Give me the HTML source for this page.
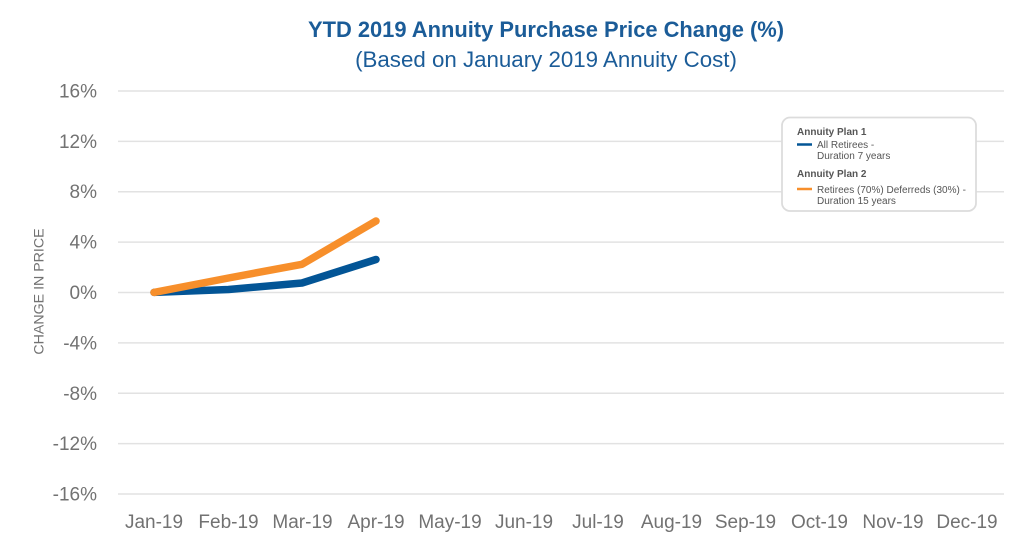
<!DOCTYPE html>
<html>
<head>
<meta charset="utf-8">
<style>
  html,body{margin:0;padding:0;background:#fff;}
  svg{display:block;}
  text{font-family:"Liberation Sans", sans-serif;}
</style>
</head>
<body>
<svg width="1024" height="545" viewBox="0 0 1024 545" xmlns="http://www.w3.org/2000/svg">
  <rect width="1024" height="545" fill="#fff"/>
  <!-- Title -->
  <text x="546" y="37" text-anchor="middle" font-size="21.9" font-weight="bold" fill="#1b5c98">YTD 2019 Annuity Purchase Price Change (%)</text>
  <text x="546" y="67" text-anchor="middle" font-size="22.3" fill="#1b5c98">(Based on January 2019 Annuity Cost)</text>

  <!-- Gridlines -->
  <g stroke="#e2e2e2" stroke-width="1.5">
    <line x1="118" y1="91" x2="1004" y2="91"/>
    <line x1="118" y1="141.4" x2="1004" y2="141.4"/>
    <line x1="118" y1="191.7" x2="1004" y2="191.7"/>
    <line x1="118" y1="242.1" x2="1004" y2="242.1"/>
    <line x1="118" y1="292.5" x2="1004" y2="292.5"/>
    <line x1="118" y1="342.9" x2="1004" y2="342.9"/>
    <line x1="118" y1="393.3" x2="1004" y2="393.3"/>
    <line x1="118" y1="443.6" x2="1004" y2="443.6"/>
    <line x1="118" y1="494" x2="1004" y2="494"/>
  </g>

  <!-- Y tick labels -->
  <g font-size="19" fill="#727272" text-anchor="end">
    <text x="97" y="97.5">16%</text>
    <text x="97" y="147.9">12%</text>
    <text x="97" y="198.2">8%</text>
    <text x="97" y="248.6">4%</text>
    <text x="97" y="299">0%</text>
    <text x="97" y="349.4">-4%</text>
    <text x="97" y="399.8">-8%</text>
    <text x="97" y="450.1">-12%</text>
    <text x="97" y="500.5">-16%</text>
  </g>

  <!-- Y axis title -->
  <text transform="translate(43.5,291.5) rotate(-90)" text-anchor="middle" font-size="14.2" fill="#727272">CHANGE IN PRICE</text>

  <!-- X labels -->
  <g font-size="19" fill="#727272" text-anchor="middle">
    <text x="154" y="528">Jan-19</text>
    <text x="228.5" y="528">Feb-19</text>
    <text x="302.5" y="528">Mar-19</text>
    <text x="376" y="528">Apr-19</text>
    <text x="450" y="528">May-19</text>
    <text x="524" y="528">Jun-19</text>
    <text x="598" y="528">Jul-19</text>
    <text x="671.5" y="528">Aug-19</text>
    <text x="745.5" y="528">Sep-19</text>
    <text x="819.5" y="528">Oct-19</text>
    <text x="893" y="528">Nov-19</text>
    <text x="967" y="528">Dec-19</text>
  </g>

  <!-- Series -->
  <polyline points="154,292.4 228.5,289.5 302,283 376,259.5" fill="none" stroke="#035596" stroke-width="7.5" stroke-linecap="round" stroke-linejoin="round"/>
  <polyline points="154,292.4 228.5,278 302,264.3 376,221" fill="none" stroke="#f78f2b" stroke-width="7.5" stroke-linecap="round" stroke-linejoin="round"/>

  <!-- Legend -->
  <rect x="782" y="117.5" width="194" height="93.5" rx="8" ry="8" fill="#fff" stroke="#dcdcdc" stroke-width="1.8"/>
  <text x="797" y="135" font-size="10" font-weight="bold" fill="#555">Annuity Plan 1</text>
  <line x1="797" y1="144.5" x2="812" y2="144.5" stroke="#035596" stroke-width="2.5"/>
  <text x="817" y="148" font-size="10" fill="#555">All Retirees -</text>
  <text x="817" y="159" font-size="10" fill="#555">Duration 7 years</text>
  <text x="797" y="177" font-size="10" font-weight="bold" fill="#555">Annuity Plan 2</text>
  <line x1="797" y1="189" x2="812" y2="189" stroke="#f78f2b" stroke-width="2.5"/>
  <text x="817" y="193" font-size="10" fill="#555">Retirees (70%) Deferreds (30%) -</text>
  <text x="817" y="204" font-size="10" fill="#555">Duration 15 years</text>
</svg>
</body>
</html>
